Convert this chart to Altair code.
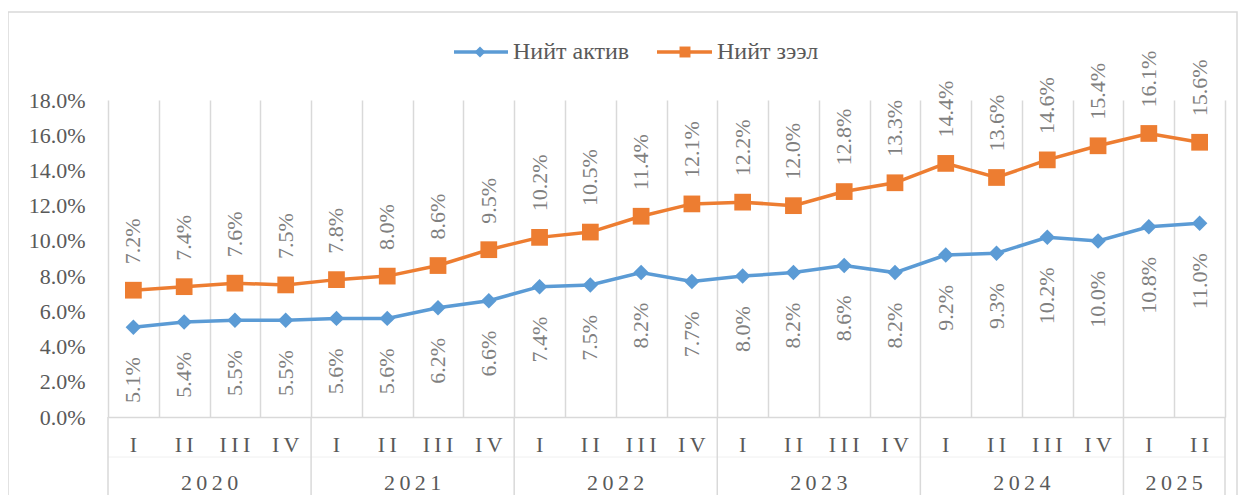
import altair as alt
import pandas as pd

# ---- data ----
years = ["2020"] * 4 + ["2021"] * 4 + ["2022"] * 4 + ["2023"] * 4 + ["2024"] * 4 + ["2025"] * 2
quarters = ["I", "II", "III", "IV"] * 5 + ["I", "II"]
assets = [5.1, 5.4, 5.5, 5.5, 5.6, 5.6, 6.2, 6.6, 7.4, 7.5, 8.2, 7.7,
          8.0, 8.2, 8.6, 8.2, 9.2, 9.3, 10.2, 10.0, 10.8, 11.0]
loans = [7.2, 7.4, 7.6, 7.5, 7.8, 8.0, 8.6, 9.5, 10.2, 10.5, 11.4, 12.1,
         12.2, 12.0, 12.8, 13.3, 14.4, 13.6, 14.6, 15.4, 16.1, 15.6]
series_names = ["Нийт актив", "Нийт зээл"]
colors = ["#5B9BD5", "#ED7D31"]
y_ticks = [0, 2, 4, 6, 8, 10, 12, 14, 16, 18]

FONT = "Liberation Serif"
GRID = "#d9d9d9"
SP = "\u2009"

n = len(quarters)
W, H = 1117, 317

rows = []
for i in range(n):
    rows.append({"pos": i + 0.5, "series": series_names[0], "value": assets[i]})
    rows.append({"pos": i + 0.5, "series": series_names[1], "value": loans[i]})
df = pd.DataFrame(rows)

qdf = pd.DataFrame({"pos": [i + 0.5 for i in range(n)],
                    "q": [SP.join(list(q)) for q in quarters],
                    "year": years})
ydf = qdf.groupby("year", as_index=False)["pos"].mean()
ydf["label"] = ydf["year"].apply(lambda s: SP.join(list(s)))

bounds = [0]
for i in range(1, n):
    if years[i] != years[i - 1]:
        bounds.append(i)
bounds.append(n)
bdf = pd.DataFrame({"b": bounds})

xscale = alt.Scale(domain=[0, n], nice=False, zero=False)
yscale = alt.Scale(domain=[0, 18], nice=False)
cscale = alt.Scale(domain=series_names, range=colors)

XAX = alt.Axis(values=list(range(n + 1)), grid=True, gridColor=GRID, gridWidth=1.5,
               labels=False, ticks=False, domain=True, domainColor=GRID,
               domainWidth=1.5, title=None)
YAX = alt.Axis(values=y_ticks, grid=False, ticks=False, domain=False,
               labelExpr="format(datum.value, '.1f') + '%'",
               labelFont=FONT, labelFontSize=22, labelColor="#595959",
               labelOverlap=False, labelBound=False, labelFlush=False,
               labelPadding=23, title=None)


def X(field):
    return alt.X(field, scale=xscale, axis=XAX)


def Y(field):
    return alt.Y(field, scale=yscale, axis=YAX)


base = alt.Chart(df)

lines = base.mark_line(strokeWidth=3.5).encode(
    x=X("pos:Q"), y=Y("value:Q"),
    color=alt.Color("series:N", scale=cscale, legend=None),
    detail="series:N",
)

points = base.mark_point(filled=True, opacity=1).encode(
    x=X("pos:Q"), y=Y("value:Q"),
    color=alt.Color("series:N", scale=cscale, legend=None),
    shape=alt.Shape("series:N", scale=alt.Scale(domain=series_names, range=["diamond", "square"]), legend=None),
    size=alt.Size("series:N", scale=alt.Scale(domain=series_names, range=[240, 280]), legend=None),
)

lab_assets = base.transform_filter(alt.datum.series == series_names[0]).transform_calculate(
    lbl="format(datum.value, '.1f') + '%'"
).mark_text(
    angle=270, align="right", baseline="middle", dx=-30, font=FONT, fontSize=22, color="#7f7f7f"
).encode(x=X("pos:Q"), y=Y("value:Q"), text="lbl:N")

lab_loans = base.transform_filter(alt.datum.series == series_names[1]).transform_calculate(
    lbl="format(datum.value, '.1f') + '%'"
).mark_text(
    angle=270, align="left", baseline="middle", dx=26, font=FONT, fontSize=22, color="#7f7f7f"
).encode(x=X("pos:Q"), y=Y("value:Q"), text="lbl:N")

# lower axis structure
year_rules = alt.Chart(bdf).mark_rule(color=GRID, strokeWidth=1.5).encode(
    x=X("b:Q"), y=alt.value(H), y2=alt.value(H + 80))
row_sep = alt.Chart(pd.DataFrame({"a": [0], "b": [n]})).mark_rule(color="#f0f0f0", strokeWidth=1).encode(
    x=X("a:Q"), x2="b:Q", y=alt.value(H + 40))
q_labels = alt.Chart(qdf).mark_text(font=FONT, fontSize=22, color="#595959", baseline="middle").encode(
    x=X("pos:Q"), y=alt.value(H + 28), text="q:N")
y_labels = alt.Chart(ydf).mark_text(font=FONT, fontSize=22, color="#595959", baseline="middle").encode(
    x=X("pos:Q"), y=alt.value(H + 66), text="label:N")

# outer border
border = alt.Chart(pd.DataFrame({"a": [0]})).mark_rect(fill=None, stroke=GRID, strokeWidth=1.5).encode(
    x=alt.value(-100), x2=alt.value(W + 12), y=alt.value(-88), y2=alt.value(H + 120))

# legend
leg = []
leg_x = [(346, 400, 372, 405), (549, 604, 577, 609)]
leg_shapes = ["diamond", "square"]
for k in range(2):
    x1, x2, xm, xt = leg_x[k]
    one = alt.Chart(pd.DataFrame({"s": [series_names[k]]}))
    leg.append(one.mark_rule(color=colors[k], strokeWidth=3.5).encode(
        x=alt.value(x1), x2=alt.value(x2), y=alt.value(-48)))
    leg.append(one.mark_point(filled=True, opacity=1, color=colors[k], shape=leg_shapes[k], size=120).encode(
        x=alt.value(xm), y=alt.value(-48)))
    leg.append(one.mark_text(font=FONT, fontSize=24, color="#595959", align="left", baseline="middle").encode(
        x=alt.value(xt), y=alt.value(-48), text="s:N"))

chart = alt.layer(
    lines, border, row_sep, year_rules, points, lab_assets, lab_loans, q_labels, y_labels, *leg
).properties(
    width=W, height=H,
    autosize=alt.AutoSizeParams(type="none"),
    padding={"left": 100, "top": 92, "right": 13, "bottom": 78},
).configure_view(stroke=None).configure_axisY(labelOverlap=False, labelBound=False)

chart.save("out.html", embed_options={"renderer": "svg", "actions": False})
